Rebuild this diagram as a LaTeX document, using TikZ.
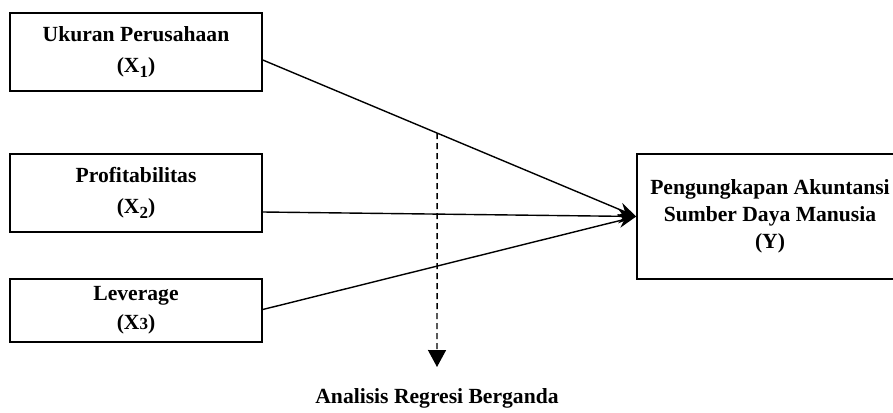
\documentclass[tikz,border=0pt]{standalone}
\usepackage{fontspec}
\setmainfont{Liberation Serif}
\usetikzlibrary{arrows.meta}

\newcommand{\subnum}[1]{\raisebox{-2.5pt}{\fontsize{8.5}{10}\selectfont #1}}

\tikzset{
    varbox/.style={draw, line width=0.8pt, minimum width=126pt, align=center,
        font=\bfseries\fontsize{10.8}{13.5}\selectfont},
    pathline/.style={line width=0.7pt, -{Stealth[length=9pt,width=7pt]}}
}

\begin{document}
\begin{tikzpicture}[x=0.5pt,y=-0.5pt]
        % Frame of the picture
        \clip (0,0) rectangle (893,412);

        % Independent variables
        \node[varbox, minimum height=39pt] (x1) at (136,52) {Ukuran Perusahaan\\[2pt](X\subnum{1})};
        \node[varbox, minimum height=39pt] (x2) at (136,193) {Profitabilitas\\[2pt](X\subnum{2})};
        \node[varbox, minimum height=31.5pt] (x3) at (136,310.5) {Leverage\\[1pt](X{\fontsize{8.5}{10}\selectfont 3})};

        % Dependent variable (cut off at the right edge)
        \node[varbox, minimum width=133pt, minimum height=62.5pt] (y) at (770,216.5)
            {Pengungkapan Akuntansi\\Sumber Daya Manusia\\(Y)};

        % Arrows into Y
        \draw[pathline] ([yshift=-4pt]x1.east) -- coordinate[pos=0.467] (split) (y.west);
        \draw[pathline] ([yshift=-9.5pt]x2.east) -- (y.west);
        \draw[pathline] ([yshift=0.5pt]x3.east) -- (y.west);

        % Method
        \node[font=\bfseries\fontsize{10.8}{13.5}\selectfont] (method) at (437,398) {Analisis Regresi Berganda};
        \coordinate (dashend) at (437,367);
        \draw[densely dashed, line width=0.7pt, -{Triangle[length=8.5pt,width=9pt]}] (split) -- (dashend);

    \end{tikzpicture}
\end{document}
